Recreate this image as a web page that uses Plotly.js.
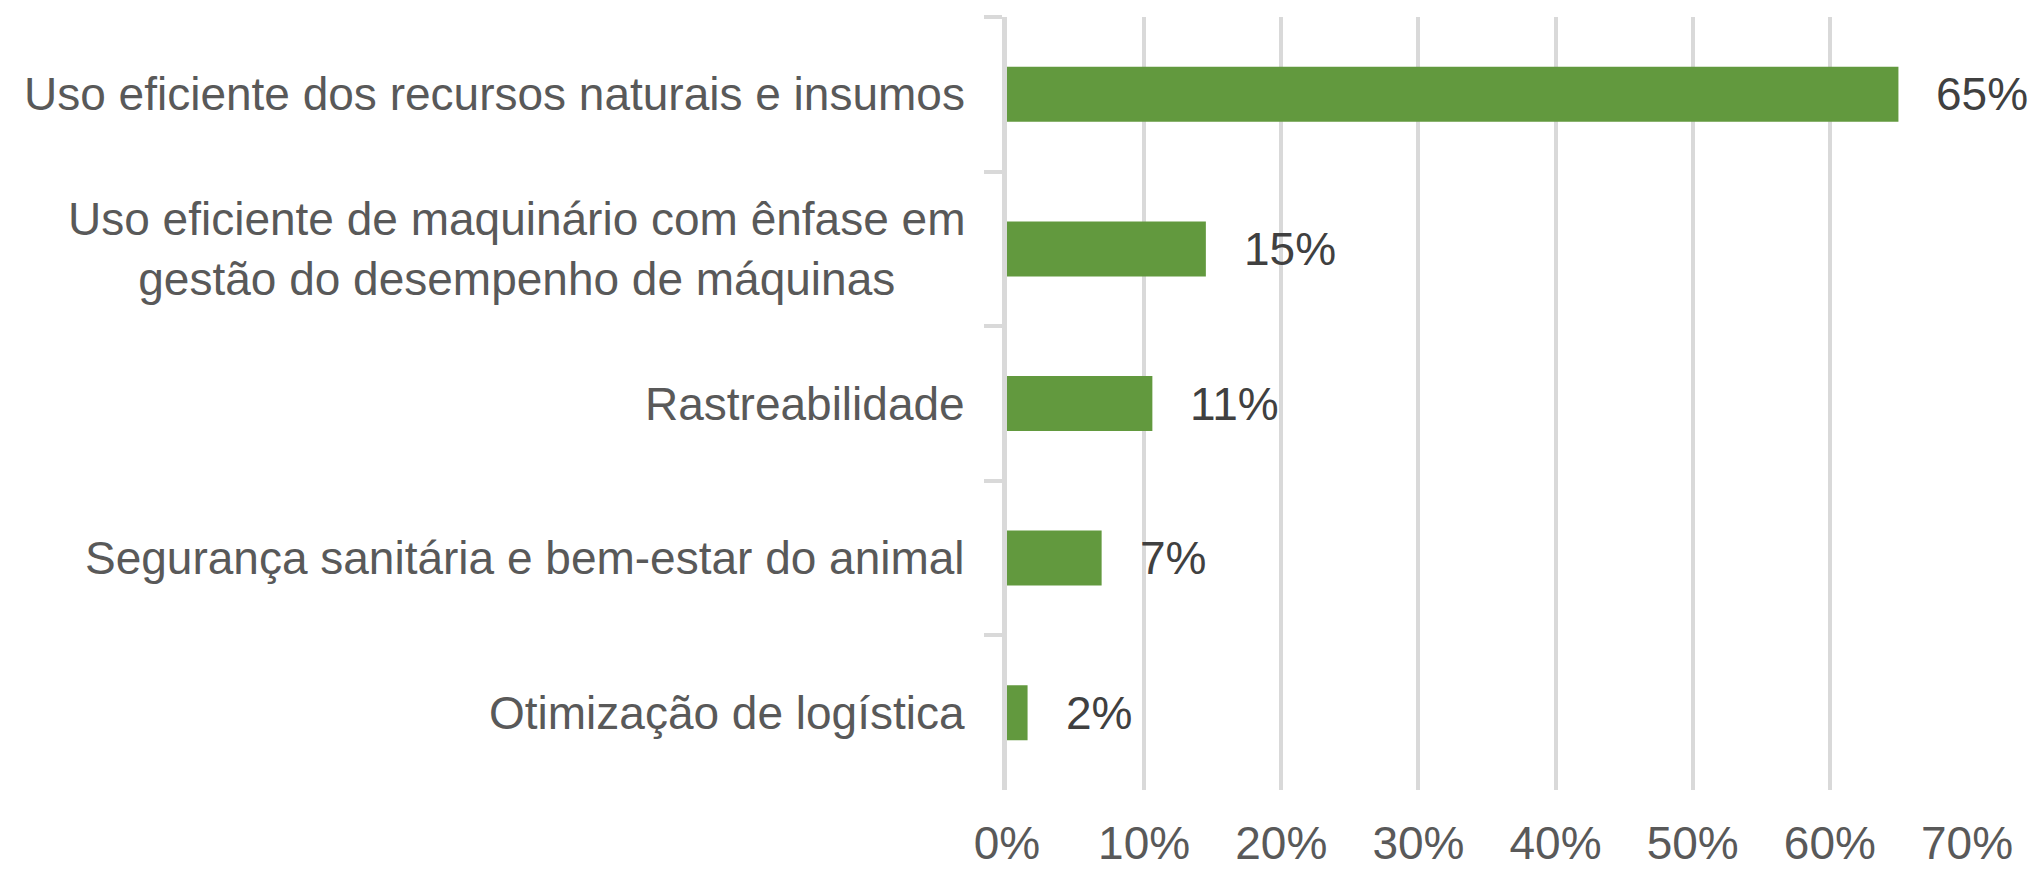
<!DOCTYPE html>
<html>
<head>
<meta charset="utf-8">
<script src="https://cdn.plot.ly/plotly-3.0.1.min.js"></script>
<style>html,body{margin:0;padding:0;background:#fff;}#chart{width:2031px;height:869px;}</style>
</head>
<body>
<div id="chart"></div>
<script>
const categories = [
  "Uso eficiente dos recursos naturais e insumos",
  "Uso eficiente de maquinário com ênfase em<br>gestão do desempenho de máquinas",
  "Rastreabilidade",
  "Segurança sanitária e bem-estar do animal",
  "Otimização de logística"
];
const values = [65, 14.5, 10.6, 6.9, 1.5];
const valueLabels = ["65%", "15%", "11%", "7%", "2%"];
const xTickValues = [0, 10, 20, 30, 40, 50, 60, 70];
const xTickLabels = ["0%", "10%", "20%", "30%", "40%", "50%", "60%", "70%"];

const FONT = "'Liberation Sans', Arial, sans-serif";

const trace = {
  type: 'bar',
  orientation: 'h',
  x: values,
  y: categories,
  marker: {color: '#62993E'},
  hoverinfo: 'none'
};

const annotations = [];
categories.forEach((c, i) => {
  annotations.push({
    xref: 'paper', yref: 'y', x: 0, y: c,
    xanchor: 'right', yanchor: 'middle', xshift: -40,
    text: c, align: 'center', showarrow: false,
    font: {family: FONT, size: 46, color: '#595959'}
  });
  annotations.push({
    xref: 'x', yref: 'y', x: values[i], y: c,
    xanchor: 'left', yanchor: 'middle', xshift: 36,
    text: valueLabels[i], showarrow: false,
    font: {family: FONT, size: 46, color: '#404040'}
  });
});

const layout = {
  width: 2031, height: 869,
  margin: {l: 1007, r: 64, t: 17, b: 79},
  paper_bgcolor: '#ffffff', plot_bgcolor: '#ffffff',
  showlegend: false,
  bargap: 0.644,
  font: {family: FONT, size: 46, color: '#595959'},
  xaxis: {
    range: [0, 70],
    tickvals: xTickValues, ticktext: xTickLabels,
    showgrid: true, gridcolor: '#d9d9d9', gridwidth: 4,
    zeroline: false, showline: false, ticks: '',
    ticklabelstandoff: 22,
    tickfont: {family: FONT, size: 46, color: '#595959'},
    fixedrange: true
  },
  yaxis: {
    autorange: 'reversed',
    showticklabels: false,
    showline: true, linecolor: '#d9d9d9', linewidth: 5,
    ticks: 'outside', tickson: 'boundaries', ticklen: 18, tickwidth: 4, tickcolor: '#d9d9d9',
    showgrid: false, zeroline: false,
    fixedrange: true
  },
  annotations: annotations
};

Plotly.newPlot('chart', [trace], layout, {displayModeBar: false, staticPlot: true});
</script>
</body>
</html>
